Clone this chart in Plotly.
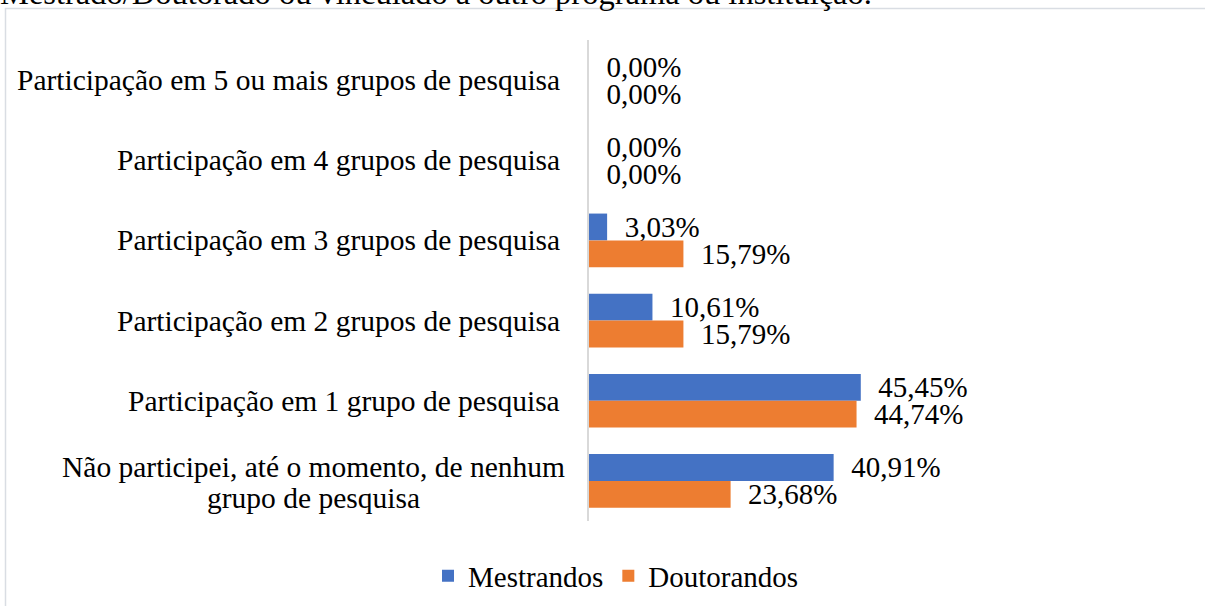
import plotly.graph_objects as go

categories = [
    "Participação em 5 ou mais grupos de pesquisa",
    "Participação em 4 grupos de pesquisa",
    "Participação em 3 grupos de pesquisa",
    "Participação em 2 grupos de pesquisa",
    "Participação em 1 grupo de pesquisa",
    "Não participei, até o momento, de nenhum<br>grupo de pesquisa",
]
mestrandos = [0.00, 0.00, 3.03, 10.61, 45.45, 40.91]
doutorandos = [0.00, 0.00, 15.79, 15.79, 44.74, 23.68]
series_names = ["Mestrandos", "Doutorandos"]
colors = ["#4472C4", "#ED7D31"]
title_text = "Mestrado/Doutorado ou vinculado a outro programa ou instituição."

FONT = "Liberation Serif, Times New Roman, serif"
FS = 29
FS_CAT = 29.5
LINE_GAP = 31

W, H = 1205, 606
ML, MR, MT, MB = 589, 18, 40, 85
pw = W - ML - MR
ph = H - MT - MB

def px_x(p):
    return (p - ML) / pw

def px_y(p):
    return 1 - (p - MT) / ph

fig = go.Figure()
for name, vals, col in zip(series_names, [mestrandos, doutorandos], colors):
    fig.add_trace(go.Bar(
        y=categories, x=vals, name=name, orientation="h",
        marker=dict(color=col, line=dict(width=0)),
        text=vals, texttemplate="\u00a0\u00a0%{x:.2f}%", textposition="outside",
        constraintext="none",
        textfont=dict(family=FONT, size=FS, color="black"),
        cliponaxis=False,
    ))

annotations = []
for c in categories:
    lines = c.split("<br>")
    n = len(lines)
    for i, ln in enumerate(lines):
        annotations.append(dict(
            text=ln, xref="paper", yref="y",
            x=px_x(562) if n == 1 else px_x(313),
            y=c,
            xanchor="right" if n == 1 else "center",
            yanchor="middle", align="center", showarrow=False,
            yshift=((n - 1) / 2 - i) * LINE_GAP + (-2 if n > 1 else 0),
            font=dict(family=FONT, size=FS_CAT, color="black"),
        ))

annotations.append(dict(
    text=title_text, xref="paper", yref="paper", x=px_x(-2), y=1, xanchor="left",
    yanchor="bottom", yshift=27, showarrow=False,
    font=dict(family=FONT, size=32.5, color="black"),
))

fig.update_layout(
    width=W, height=H,
    margin=dict(l=ML, r=MR, t=MT, b=MB, autoexpand=False),
    paper_bgcolor="white", plot_bgcolor="white",
    barmode="group", bargap=0.33, bargroupgap=0,
    separators=",.",
    font=dict(family=FONT, size=FS, color="black"),
    xaxis=dict(range=[0, 100], showticklabels=False, showgrid=False,
               zeroline=False, showline=False, fixedrange=True),
    yaxis=dict(autorange="reversed", showticklabels=False, showgrid=False,
               zeroline=False, showline=True, linecolor="#d9d9d9", linewidth=2,
               ticks=""),
    showlegend=True,
    legend=dict(orientation="h", x=px_x(616), xanchor="center",
                y=px_y(576), yanchor="middle",
                font=dict(family=FONT, size=FS, color="black"),
                itemwidth=30, traceorder="normal"),
    annotations=annotations,
    shapes=[dict(type="rect", xref="paper", yref="paper",
                 x0=px_x(5.5), x1=px_x(1230), y0=px_y(640), y1=px_y(8.5),
                 line=dict(color="#d9dde3", width=1.5), layer="below")],
)

fig.write_html("out.html",
               config={"displayModeBar": False},
               post_script="document.body.style.margin='0';document.body.style.overflow='hidden';")
